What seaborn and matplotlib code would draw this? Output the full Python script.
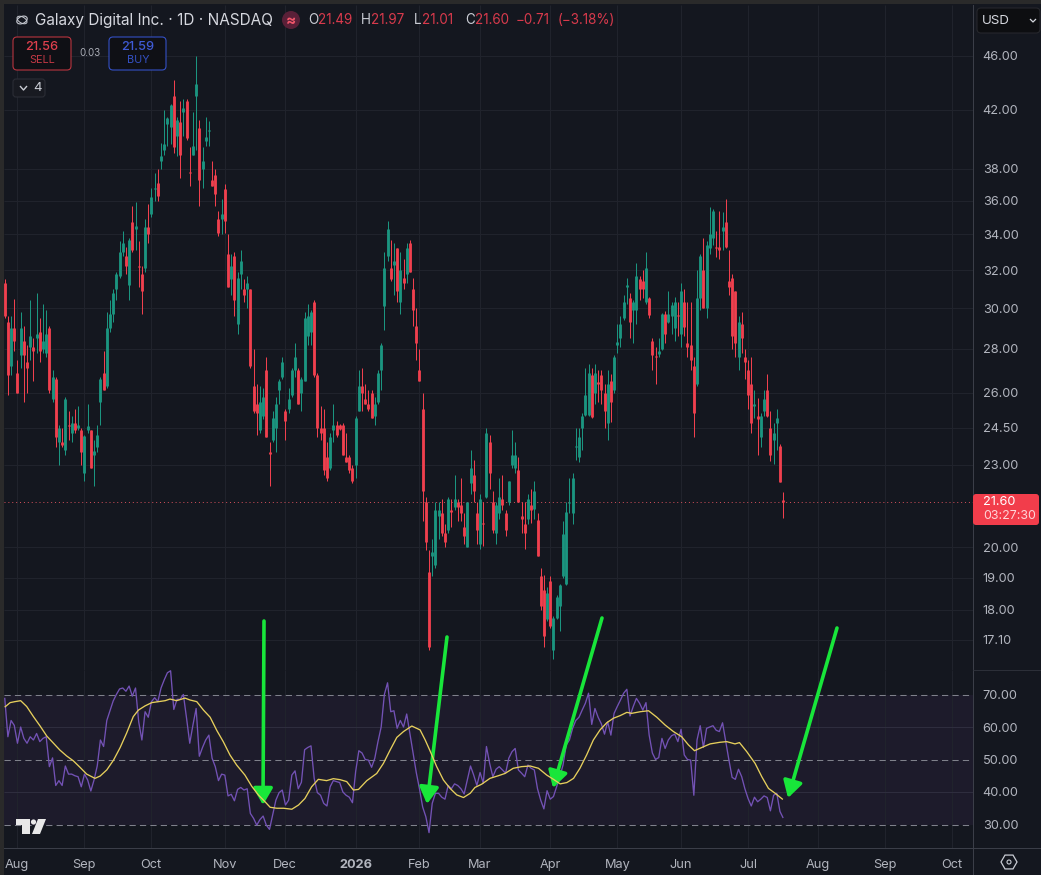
import numpy as np
import pandas as pd
import matplotlib
matplotlib.use('Agg')
import matplotlib.pyplot as plt
from matplotlib.lines import Line2D
from matplotlib.patches import FancyBboxPatch, Rectangle, Polygon, Circle, RegularPolygon, Ellipse
from matplotlib.ticker import NullLocator
import seaborn as sns

# Candles, one value per trading day
opens = [31.3,29.3,27.2,29.0,26.9,27.7,28.4,27.4,28.1,28.1,
         28.5,28.8,28.0,27.8,29.0,25.7,26.6,23.9,23.9,23.6,
         24.6,24.3,24.7,24.5,24.4,22.7,24.4,24.4,23.4,23.7,
         25.6,26.9,26.3,29.0,29.7,31.0,31.7,33.0,32.8,31.2,
         34.7,34.3,32.2,31.8,32.1,34.4,35.2,36.7,37.1,38.5,
         39.2,41.0,40.8,43.0,40.2,41.1,41.8,42.6,37.8,38.9,
         43.0,40.7,38.0,39.8,40.5,37.3,37.6,34.9,34.9,36.7,
         32.9,31.5,32.8,29.2,31.8,31.0,31.0,31.0,26.3,25.5,
         24.4,25.0,27.0,23.5,24.0,24.5,26.1,26.7,25.2,25.3,
         25.9,27.0,27.0,26.0,26.5,28.6,28.8,30.3,26.8,24.5,
         24.5,23.3,22.9,24.4,24.6,24.6,24.6,23.3,23.3,22.9,
         23.0,25.2,26.3,25.7,25.5,26.0,25.0,25.6,27.0,30.1,
         32.8,32.1,32.3,33.2,30.3,31.6,31.8,33.5,31.0,29.1,
         27.0,25.3,21.6,19.2,19.7,19.4,21.1,21.2,20.5,20.6,
         21.3,21.4,21.6,21.5,20.7,20.0,22.3,22.6,21.2,20.1,
         20.85,21.8,23.9,21.6,20.5,21.2,21.7,21.2,21.6,23.0,
         22.9,22.8,21.1,20.8,21.0,21.5,21.35,20.95,19.05,18.6,
         17.7,18.9,16.8,17.75,18.1,19.05,18.8,21.55,21.2,23.7,
         23.3,24.5,25.05,25.05,26.8,26.0,26.45,26.8,26.0,24.7,
         26.5,26.1,28.2,28.5,29.5,31.1,30.5,29.9,29.9,31.5,
         31.4,30.3,30.5,28.4,27.65,27.75,28.0,29.7,29.3,29.6,
         29.0,29.65,28.7,30.3,28.3,28.2,27.2,26.4,30.5,32.0,
         30.0,33.2,33.8,33.3,33.3,34.2,34.7,31.4,31.6,30.9,
         27.6,29.2,27.6,27.0,26.4,25.4,25.0,24.1,25.2,26.1,
         24.5,24.0,24.7,23.75,21.69]
highs = [31.5,29.6,29.6,30.45,27.5,29.8,29.1,28.2,30.4,28.5,
         30.8,29.5,30.2,29.9,29.1,27.0,26.7,24.6,24.5,25.8,
         25.2,25.0,25.3,25.4,24.5,24.2,25.5,24.4,24.0,24.6,
         26.7,27.9,29.8,30.4,31.0,31.9,33.6,34.2,33.3,33.8,
         35.7,35.9,33.6,32.2,34.9,35.8,36.8,37.7,38.0,39.7,
         42.0,41.5,42.4,44.2,41.5,42.6,42.8,42.8,39.4,41.8,
         46.0,41.3,39.4,41.5,41.2,38.5,38.0,35.4,36.1,37.0,
         34.0,32.9,33.0,31.9,33.1,31.5,31.7,31.0,28.0,26.4,
         26.3,26.2,27.6,23.9,25.2,25.8,26.6,27.6,25.3,26.2,
         27.1,28.3,27.1,26.7,29.8,30.2,29.9,30.4,26.9,25.4,
         25.3,23.9,24.3,25.5,24.8,24.65,24.7,24.3,23.4,23.0,
         25.0,27.0,27.1,26.4,26.1,26.1,25.8,27.0,28.3,33.0,
         34.8,33.7,33.5,33.2,33.0,32.6,33.5,33.7,31.6,30.0,
         28.0,26.0,21.8,19.9,20.3,21.6,21.6,21.7,20.8,21.8,
         21.7,22.6,21.7,22.5,21.2,21.6,23.6,23.2,21.6,21.9,
         21.6,24.5,24.2,22.0,21.6,22.5,22.6,21.3,22.4,24.4,
         23.9,23.3,21.6,21.6,21.9,22.1,22.4,21.2,19.3,19.1,
         18.7,19.05,17.8,18.45,18.8,20.9,21.6,22.5,22.7,24.5,
         24.5,25.1,27.1,27.3,27.1,27.3,27.0,27.0,26.4,27.0,
         26.85,27.7,29.2,29.6,30.7,31.6,30.8,30.4,32.4,31.7,
         32.0,33.0,30.6,28.5,28.1,28.5,29.75,29.85,30.9,30.3,
         30.6,30.3,31.3,31.0,30.3,30.3,27.6,32.0,32.9,33.8,
         33.6,35.6,35.5,34.2,35.4,35.3,36.1,33.1,31.8,30.9,
         29.6,29.8,28.0,27.5,27.6,26.1,25.75,25.1,26.1,26.85,
         25.2,24.7,25.3,23.85,21.97]
lows = [29.5,25.9,26.8,27.9,26.0,27.1,25.6,26.0,27.5,26.5,
        27.8,27.4,27.8,27.6,26.0,25.6,23.7,23.0,23.7,23.4,
        24.0,23.9,24.3,24.4,23.0,22.4,24.3,22.9,22.2,23.5,
        24.6,26.1,26.2,28.8,29.3,30.4,31.6,32.8,31.8,30.4,
        33.0,33.1,31.1,29.7,31.9,33.5,35.0,36.0,36.0,37.95,
        38.9,39.5,39.6,39.0,38.8,37.4,40.2,39.9,36.9,38.9,
        39.2,35.7,36.8,39.5,39.5,36.9,35.7,33.9,34.0,34.1,
        31.1,30.7,29.6,28.7,31.0,30.3,30.0,27.1,25.1,24.2,
        24.3,24.85,24.1,22.2,23.9,23.5,25.5,26.6,24.0,25.1,
        25.8,26.7,25.5,25.2,26.5,28.2,28.2,26.7,24.1,24.0,
        22.6,22.4,22.8,23.9,24.1,24.4,23.4,23.1,22.7,22.3,
        22.5,25.2,25.2,25.5,25.2,24.9,24.6,25.5,26.1,28.9,
        32.5,31.4,30.7,30.3,29.7,31.0,31.3,31.9,29.1,27.5,
        26.5,20.9,19.9,16.8,19.05,19.3,20.3,20.4,20.0,20.5,
        20.7,21.3,20.9,20.9,20.1,20.0,21.9,21.6,20.1,19.95,
        20.05,21.75,22.1,20.5,20.1,21.0,21.3,20.4,21.5,22.9,
        22.7,21.6,20.5,19.95,20.8,20.85,21.0,19.7,18.0,16.9,
        17.65,17.45,16.55,17.7,17.35,19.0,18.75,21.2,20.8,23.2,
        23.1,23.6,25.0,25.0,24.9,25.5,25.6,25.5,24.5,24.0,
        24.75,26.0,27.8,28.1,29.4,30.2,28.5,28.3,29.2,30.4,
        30.5,30.2,29.5,27.0,26.4,27.6,27.95,28.3,29.25,28.7,
        28.4,28.6,28.1,28.6,27.6,27.0,24.1,26.3,29.9,30.0,
        29.5,32.9,33.4,32.7,32.6,33.1,33.2,30.7,28.0,27.6,
        27.0,27.8,26.6,25.3,24.3,24.9,23.4,23.7,25.0,24.95,
        23.15,23.05,23.6,22.35,21.01]
closes = [29.6,26.8,29.0,28.4,26.0,29.0,27.7,27.1,28.6,27.9,
          28.7,27.9,28.4,28.7,26.1,26.7,24.1,24.5,23.8,25.7,
          24.55,24.7,24.4,24.6,23.5,24.15,24.55,22.9,23.55,24.2,
          26.6,26.1,29.0,29.7,30.8,31.8,33.0,33.5,32.2,33.7,
          33.1,34.5,32.15,30.9,34.4,34.0,36.2,36.8,36.3,38.85,
          39.6,41.4,42.3,39.4,41.3,38.9,42.1,40.0,37.7,39.5,
          43.9,37.3,38.5,40.1,40.55,36.9,36.4,34.1,35.2,34.8,
          31.1,32.2,30.4,31.6,32.5,30.7,31.3,27.2,25.2,25.1,
          25.6,25.8,24.1,23.45,24.9,25.5,26.5,27.4,24.8,25.7,
          27.0,27.6,25.5,26.6,29.5,29.6,29.8,26.8,24.5,24.3,
          22.8,22.5,24.1,24.6,24.2,24.45,23.4,23.1,22.8,22.4,
          24.9,26.3,26.0,25.5,25.3,24.9,25.5,26.9,28.2,32.1,
          34.3,31.5,32.5,30.9,32.0,31.3,33.2,31.9,29.9,28.3,
          26.5,22.0,20.2,16.9,19.85,21.3,21.3,20.5,20.2,21.7,
          21.25,21.7,21.4,21.2,20.4,21.6,22.9,22.0,20.6,21.7,
          20.8,24.3,22.7,20.6,21.5,21.8,21.5,20.6,22.4,23.4,
          23.4,21.6,21.0,20.5,21.7,21.3,22.0,19.7,18.1,17.2,
          18.5,17.5,17.75,18.4,18.75,20.45,21.25,21.6,22.5,23.75,
          24.1,25.0,25.9,26.9,24.95,26.9,26.4,26.1,25.2,26.4,
          25.6,27.6,28.35,29.2,30.3,31.2,29.3,30.3,31.7,31.0,
          31.0,32.1,29.65,27.7,27.6,27.9,29.7,28.7,29.7,30.15,
          30.3,29.6,30.9,29.05,28.1,27.5,25.1,30.5,32.8,30.0,
          33.4,34.0,35.4,33.25,33.1,34.4,33.3,31.1,28.6,28.3,
          29.3,28.5,27.4,25.9,24.7,25.5,24.85,25.0,25.7,25.0,
          23.4,24.3,24.9,22.35,21.60]

# RSI line, one value per trading day
rsi = [69,57,62,60.5,55,60,56.5,55,57,56,
       58,55.5,56.5,57,47.8,50.5,42,43.5,42,48,
       45.5,45.5,45,44.7,41.6,45.5,43.7,40.3,43.7,48,
       56,54,62,65,68,70,71.7,72,71,72.6,
       69.5,72,61.6,56,64.7,63,67.8,69,67.8,72,
       74.5,76.7,77.3,65.4,68.5,68.5,70,62.7,55,60.6,
       65.7,51,53.7,56,57.5,50.4,47.8,43.5,45.5,45.2,
       38.8,39.3,37.3,40.8,41.4,40.6,41,33.4,31.9,29.8,
       31.5,32.6,29.8,28.5,33,37.5,39.8,40.6,36,37.5,
       45.2,46.5,41,43,53,53.7,54.2,44.2,39.8,39,
       36.5,35.7,41.6,43.5,43.2,42.9,40,39,38.4,36.7,
       46.3,52.7,52,50,49.8,47.6,50.4,55.5,60,70,
       73.6,64.7,65,59.6,62,60,64,58,52,46,
       41,35.4,32.4,27.5,36.5,39.6,39.6,38.4,37.8,42,
       41,42.5,42,41,39.4,43.7,48,45.2,42,46,
       42.7,54,48.8,44.7,47,47.8,46.8,45.8,50.4,52.4,
       53.4,46.8,45.8,44.7,48.3,47.3,46.8,41,37.5,34.8,
       40.4,37.8,38.6,41.6,44.7,48.3,54.5,56,59.6,62,
       63,65.2,67.3,70.4,60.8,65.7,63,61,57.8,61.6,
       57.5,64.2,66.3,68.3,70.4,71.6,63.4,66.3,68.8,67.3,
       65.2,67.5,57.5,52,50,50.6,56.5,53.4,56,57.3,
       57.8,55.5,59.3,51.4,50,49.8,39,56,60.4,53.7,
       59.6,60,60.4,59,58.6,61.3,55.5,49.8,44.5,43.9,
       47,44.7,41,38,35.7,38.4,37,37.8,38.8,38.3,
       34.2,39,39.6,34,32]

# Yellow moving average, read at selected bars
ma_bar = [0,1.7,3.2,5,6.9,9,11.1,13.2,15.3,17.3,19.4,21.5,23.6,25.7,28.3,29.9,32,34.1,36.2,38.2,
          40.3,41.9,44,46.1,48.2,50.3,51.8,53.9,56.5,58.1,60.2,62.3,64.4,66.5,68.5,70.6,72.7,75.3,77.4,79.5,
          81.6,83.2,85.3,87.4,90,92.1,94.1,96.2,98.3,100.9,103,105.1,107.2,109.3,110.9,113.5,116.6,118.7,120.8,122.9,
          125,127.6,130.2,131.8,133.3,135.4,137.5,139.6,141.7,143.8,145.9,147.4,149.5,152.1,154.7,156.8,159.4,162,164.7,167.3,
          169.9,172,174.1,176.2,178.3,180.3,182.4,184.5,186.6,188.7,190.8,192.9,195,196.5,199.2,201.8,204.4,207,209.6,212.2,
          214.3,216.2,218.5,221.1,224.2,226.3,228.9,230.3,232.6,235.2,237.3,239.4,241.5,243.9]
ma_val = [66.1,67.5,67.8,68.1,66.3,63.2,60.3,57.2,55,52.9,51.1,49.6,47.6,45.5,44.2,44.9,46.8,49.8,53.7,58.1,
          63.2,65.2,66.5,67.5,67.8,68.1,68.6,68.1,68.9,68.3,67.8,65.2,63,58.9,55.5,51.4,48.3,45.2,41.8,39.1,
          37,35.3,35,35,34.7,36,38,41.6,43.9,43.5,44.1,43.8,43.2,40.6,40.8,43.5,45.7,48.8,52.9,56.8,
          58.6,60.3,59.1,56,52.7,47.8,43.7,41.1,39.1,38.3,39.6,41.4,42.4,44.2,45,45.7,47.3,47.8,48,47.3,
          45.2,43.9,42.5,42.9,44.2,47.3,51.4,56,59.1,61.3,62.7,63.5,64.5,64.2,64.7,65,63,60.6,58.6,57,
          54.5,52.7,53.7,54.8,55.3,55.5,54.8,55.2,52.4,48.8,44.7,41.1,39.6,37.7]

# Axis ticks
price_ticks = [46, 42, 38, 36, 34, 32, 30, 28, 26, 24.5, 23, 20, 19, 18, 17.1]
rsi_ticks = [70, 60, 50, 40, 30]
date_bars = [3.9, 24.9, 45.9, 69.1, 87.9, 110.1, 129.9, 149, 171, 192, 212, 233, 255, 276, 297]
date_labels = ['Aug', 'Sep', 'Oct', 'Nov', 'Dec', '2026', 'Feb', 'Mar', 'Apr', 'May', 'Jun', 'Jul', 'Aug', 'Sep', 'Oct']
last_price = 21.60

# Hand drawn arrows: start and tip in image pixels
arrow_from = [(264, 621), (447, 637), (602, 618), (837, 628)]
arrow_to = [(263, 805), (427, 804), (553, 788), (788, 798)]

W, H = 1041, 875
BG = '#14171f'
GRID = '#20232c'
EDGE = '#3b3e48'
TXT = '#b2b5be'
RED = '#f0404e'
GREEN = '#1b9580'

sns.set_theme(style='dark', rc={'axes.facecolor': BG, 'figure.facecolor': BG,
                                'lines.solid_capstyle': 'butt'})
plt.rcParams['font.family'] = ['Inter', 'DejaVu Sans']

fig = plt.figure(figsize=(W / 100, H / 100), dpi=100)


def fx(x):
    return x / W


def fy(y):
    return 1 - y / H


def label(x, y, s, color=TXT, size=9.2, ha='left', **kw):
    fig.text(fx(x), fy(y), s, color=color, fontsize=size, ha=ha, va='center', **kw)


def box(x0, y0, x1, y1, face, edge='none', r=4, lw=0.8, z=5):
    fig.add_artist(FancyBboxPatch((x0, H - y1), x1 - x0, y1 - y0, boxstyle=f'round,pad=0,rounding_size={r}',
                                  transform=None, fc=face, ec=edge, lw=lw, zorder=z))


def fline(x0, y0, x1, y1, color=EDGE, lw=0.75):
    fig.add_artist(Line2D([fx(x0), fx(x1)], [fy(y0), fy(y1)], color=color, lw=lw, zorder=4))


# Panes
ax = fig.add_axes([fx(4), fy(670), fx(969), 665 / H])
ax2 = fig.add_axes([fx(4), fy(848), fx(969), 178 / H])

# Candles through seaborn, one unit per candle
df = pd.DataFrame({'bar': range(len(opens)), 'o': opens, 'h': highs, 'l': lows, 'c': closes})
df['side'] = np.where(df['c'] >= df['o'], 'up', 'down')
pal = {'up': GREEN, 'down': RED}
wicks = df.melt(id_vars=['bar', 'side'], value_vars=['h', 'l'], value_name='price')
bodies = df.melt(id_vars=['bar', 'side'], value_vars=['o', 'c'], value_name='price')
sns.lineplot(data=wicks, x='bar', y='price', hue='side', palette=pal, units='bar', estimator=None,
             linewidth=0.72, legend=False, ax=ax, zorder=3)
sns.lineplot(data=bodies, x='bar', y='price', hue='side', palette=pal, units='bar', estimator=None,
             linewidth=2.05, legend=False, ax=ax, zorder=3)

ax.set_yscale('log')
ax.set_ylim(46 * np.exp(-614 / 590), 46 * np.exp(51 / 590))
ax.set_xlim(-0.22, 303.5)
ax.yaxis.set_major_locator(plt.FixedLocator(price_ticks))
ax.yaxis.set_minor_locator(NullLocator())
ax.set_yticklabels([f'{t:.2f}' for t in price_ticks])
ax.axhline(last_price, color='#d8515c', lw=0.7, ls=(0, (1, 3)), zorder=2)

# RSI pane
ax2.axhspan(30, 70, color='#1d1b2b', lw=0, zorder=0)
for level in [70, 50, 30]:
    ax2.axhline(level, color='#7f818b', lw=0.75, ls=(0, (6, 4)), zorder=1)
sns.lineplot(x=np.arange(len(rsi)), y=rsi, color='#7352b5', linewidth=0.95, ax=ax2, zorder=3)
sns.lineplot(x=ma_bar, y=ma_val, color='#e6cf5c', linewidth=0.95, ax=ax2, zorder=4)
ax2.set_ylim(30 - 23.5 / 3.25, 70 + 24.5 / 3.25)
ax2.set_xlim(-0.22, 303.5)
ax2.set_yticks(rsi_ticks)
ax2.set_yticklabels([f'{t:.2f}' for t in rsi_ticks])
ax2.get_yticklabels()[2].set_fontweight('bold')
ax2.set_xticks(date_bars)
ax2.set_xticklabels(date_labels)
ax2.get_xticklabels()[5].set_fontweight('bold')

for a in (ax, ax2):
    a.set_xlabel('')
    a.set_ylabel('')
    a.grid(True, color=GRID, lw=0.72)
    a.set_axisbelow(True)
    a.yaxis.tick_right()
    a.set_xticks(date_bars)
    a.tick_params(axis='y', length=0, pad=7, labelsize=9.2, labelcolor=TXT)
    a.tick_params(axis='x', length=0, pad=8, labelsize=9.2, labelcolor=TXT)
    for side in ['top', 'left']:
        a.spines[side].set_visible(False)
    for side in ['right', 'bottom']:
        a.spines[side].set_color(EDGE)
        a.spines[side].set_linewidth(0.75)
ax.tick_params(axis='x', labelbottom=False)
ax.spines['bottom'].set_color('#2c2f38')
ax2.set_yticks(rsi_ticks)
ax2.yaxis.grid(False)
for level in [60, 40]:
    ax2.axhline(level, color='#2e2d3e', lw=0.72, zorder=1)

# Window edges and axis lines that run on past the panes
fig.add_artist(Rectangle((0, 0), fx(4), 1, transform=fig.transFigure, fc='#2a2a2a', ec='none', zorder=6))
fig.add_artist(Rectangle((0, fy(4)), 1, 4 / H, transform=fig.transFigure, fc='#2a2a2a', ec='none', zorder=6))
fline(973, 848, 973, 875)
fline(973, 848, 1041, 848)
fline(973, 670, 1041, 670, color='#2c2f38')

# Header
label(35, 20, 'Galaxy Digital Inc. · 1D · NASDAQ', color='#d6d8df', size=11.05)
fig.add_artist(Circle((291, H - 20), 9, transform=None, fc='#5a2038', ec='none', zorder=5))
label(291, 20, '≈', color='#f0566a', size=11, ha='center', weight='bold', zorder=6)
for x, s in [(308, 'O'), (361, 'H'), (414, 'L'), (465, 'C')]:
    label(x, 20, s, color='#c9ccd4', size=9.7)
for x, s in [(318, '21.49'), (371, '21.97'), (422, '21.01'), (475, '21.60'), (516, '−0.71'), (558, '(−3.18%)')]:
    label(x, 20, s, color='#d83a4c', size=9.7)

# Logo beside the title
fig.add_artist(Ellipse((22, H - 20), 11, 7, angle=25, transform=None, fc='none', ec='#c9ccd4', lw=0.8, zorder=6))
fig.add_artist(Ellipse((22, H - 20), 6, 11, angle=60, transform=None, fc='none', ec='#c9ccd4', lw=0.7, zorder=6))

# Order buttons
box(13, 37, 71, 70, '#0f1015', edge='#b8343f')
label(42, 47, '21.56', color='#e0404d', size=9.2, ha='center', weight='medium', zorder=6)
label(42, 60, 'SELL', color='#c23844', size=7.8, ha='center', zorder=6)
label(90, 53, '0.03', color='#a9acb5', size=7, ha='center')
box(109, 37, 166, 70, '#0f1015', edge='#3450c4')
label(138, 47, '21.59', color='#3f5bd6', size=9.2, ha='center', weight='medium', zorder=6)
label(138, 60, 'BUY', color='#3450c4', size=7.8, ha='center', zorder=6)
box(13, 79, 45, 97, '#181a21', edge='#2b2d35', r=3)
fig.add_artist(Line2D([fx(20), fx(23.5), fx(27)], [fy(86), fy(90), fy(86)], color='#c9ccd4', lw=1, zorder=6))
label(33, 88, '4', color='#c9ccd4', size=9.6, zorder=6)

# Currency button
box(977, 8, 1040, 33, '#0d0e11', edge='#26272c')
label(982, 20.5, 'USD', color='#d6d8df', size=9.6, zorder=6)
fig.add_artist(Line2D([fx(1030), fx(1033), fx(1036)], [fy(19), fy(22), fy(19)], color='#d6d8df', lw=0.9, zorder=6))

# Last price tag
box(973, 494, 1039, 525, '#f23d4b', r=3)
label(983, 502, '21.60', color='#ffffff', size=9.2, zorder=6)
label(983, 516, '03:27:30', color='#ffd5d8', size=8.9, zorder=6)

# Settings icon
fig.add_artist(RegularPolygon((1009, H - 862), 6, radius=8, orientation=np.pi / 2, transform=None,
                              fc='none', ec='#c9ccd4', lw=0.9, zorder=6))
fig.add_artist(Circle((1009, H - 862), 2, transform=None, fc='none', ec='#c9ccd4', lw=0.8, zorder=6))

# Chart maker logo
logo = '#e8e8e8'
fig.add_artist(Polygon([(16, H - 819), (30, H - 819), (30, H - 834), (22, H - 834), (22, H - 825), (16, H - 825)],
                       closed=True, transform=None, fc=logo, ec='none', zorder=6))
fig.add_artist(Circle((33.5, H - 822), 2.6, transform=None, fc=logo, ec='none', zorder=6))
fig.add_artist(Polygon([(38, H - 819), (46, H - 819), (40, H - 834), (32, H - 834)],
                       closed=True, transform=None, fc=logo, ec='none', zorder=6))

# Green arrows
for start, tip in zip(arrow_from, arrow_to):
    ax2.annotate('', xy=(tip[0], H - tip[1]), xytext=(start[0], H - start[1]),
                 xycoords='figure pixels', textcoords='figure pixels', annotation_clip=False,
                 arrowprops=dict(arrowstyle='-|>,head_length=1.0,head_width=0.58', mutation_scale=10,
                                 color='#18e63a', lw=2.6, shrinkA=0, shrinkB=0))

fig.savefig('out.png', dpi=100, facecolor=BG)
